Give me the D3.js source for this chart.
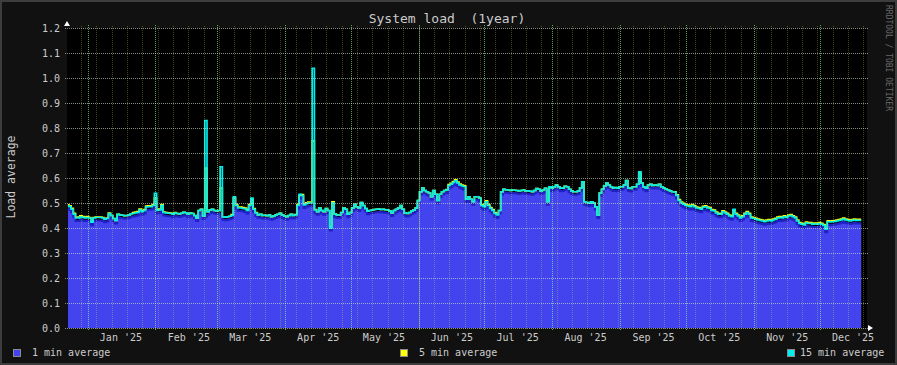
<!DOCTYPE html>
<html>
<head>
<meta charset="utf-8">
<script src="https://cdn.jsdelivr.net/npm/d3@7"></script>
<style>
  html, body { margin: 0; padding: 0; background: #111; }
  svg { display: block; font-family: "DejaVu Sans Mono", monospace; }
</style>
</head>
<body>
<script>
// one sample per day, first sample on 23 Dec 2024
const firstDay = new Date(2024, 11, 23);

// 15 min average (cyan)
const load15 = [
  .489,.485,.475,.455,.440,.440,.445,.442,.440,.442,
  .440,.423,.440,.442,.442,.442,.440,.435,.438,.458,
  .450,.438,.430,.455,.452,.451,.449,.450,.452,.457,
  .458,.460,.462,.472,.465,.470,.484,.485,.485,.490,
  .539,.470,.472,.490,.462,.460,.459,.458,.455,.460,
  .458,.456,.459,.463,.461,.455,.460,.458,.450,.440,
  .470,.475,.448,.830,.465,.472,.475,.470,.468,.470,
  .645,.445,.443,.445,.447,.450,.525,.490,.480,.480,
  .478,.476,.470,.490,.520,.475,.460,.452,.455,.450,
  .451,.449,.452,.445,.448,.452,.455,.459,.452,.448,
  .445,.450,.455,.450,.452,.490,.535,.530,.492,.497,
  .500,.500,1.039,.472,.465,.480,.470,.465,.478,.470,
  .399,.500,.456,.452,.452,.462,.480,.475,.455,.462,
  .480,.495,.485,.480,.502,.490,.478,.467,.470,.472,
  .474,.475,.476,.474,.475,.473,.472,.468,.460,.470,
  .475,.480,.490,.475,.460,.458,.462,.468,.472,.480,
  .510,.545,.560,.550,.545,.540,.525,.550,.535,.510,
  .535,.545,.550,.552,.570,.575,.582,.589,.580,.572,
  .568,.565,.515,.525,.515,.505,.525,.525,.520,.490,
  .485,.505,.490,.478,.470,.458,.452,.470,.545,.555,
  .553,.552,.550,.552,.551,.550,.548,.550,.552,.548,
  .549,.547,.545,.550,.558,.555,.548,.552,.559,.505,
  .565,.560,.565,.572,.565,.559,.560,.567,.565,.555,
  .548,.545,.545,.548,.560,.585,.505,.502,.499,.505,
  .500,.485,.452,.540,.555,.568,.580,.572,.565,.560,
  .562,.559,.565,.565,.572,.590,.560,.558,.565,.565,
  .575,.625,.580,.565,.559,.572,.575,.570,.572,.570,
  .575,.565,.560,.556,.552,.548,.545,.543,.530,.510,
  .500,.495,.490,.488,.485,.490,.485,.480,.478,.475,
  .483,.485,.480,.478,.470,.468,.460,.455,.455,.465,
  .460,.455,.448,.445,.475,.455,.448,.440,.445,.455,
  .462,.455,.440,.438,.435,.432,.430,.428,.425,.428,
  .430,.428,.432,.435,.440,.442,.440,.445,.442,.448,
  .450,.445,.440,.428,.418,.415,.412,.420,.418,.418,
  .415,.416,.415,.418,.415,.410,.395,.425,.424,.425,
  .426,.428,.430,.432,.436,.432,.430,.428,.430,.432,
  .430,.431,.430
];

// 5 min average (yellow)
const load5 = [
  .493,.489,.479,.459,.444,.444,.449,.446,.444,.446,
  .442,.425,.442,.444,.444,.444,.442,.437,.440,.460,
  .450,.438,.430,.455,.452,.451,.449,.450,.452,.457,
  .462,.464,.466,.476,.469,.474,.488,.489,.489,.494,
  .520,.474,.476,.494,.464,.462,.461,.460,.457,.462,
  .458,.456,.459,.463,.461,.455,.460,.458,.450,.440,
  .470,.475,.448,.640,.465,.472,.475,.470,.468,.470,
  .560,.445,.443,.445,.447,.454,.520,.494,.484,.484,
  .482,.480,.474,.494,.515,.478,.462,.452,.455,.450,
  .451,.449,.452,.445,.448,.452,.455,.459,.452,.448,
  .445,.450,.455,.450,.454,.494,.530,.534,.496,.501,
  .504,.504,.749,.474,.465,.480,.470,.465,.478,.470,
  .405,.505,.456,.452,.452,.462,.480,.475,.455,.462,
  .480,.495,.485,.480,.502,.490,.478,.467,.470,.472,
  .474,.475,.476,.474,.475,.473,.472,.468,.460,.470,
  .475,.480,.490,.475,.460,.458,.462,.468,.472,.480,
  .510,.545,.560,.550,.545,.540,.525,.550,.535,.510,
  .535,.545,.550,.554,.574,.579,.586,.593,.584,.576,
  .572,.569,.515,.525,.515,.505,.525,.525,.520,.494,
  .489,.509,.494,.482,.474,.462,.456,.470,.545,.555,
  .553,.552,.550,.552,.551,.550,.548,.550,.552,.548,
  .549,.547,.545,.550,.558,.555,.548,.552,.559,.505,
  .565,.560,.565,.572,.565,.559,.560,.567,.565,.555,
  .548,.545,.545,.548,.560,.585,.505,.502,.499,.505,
  .500,.485,.452,.540,.555,.568,.580,.572,.565,.560,
  .562,.559,.565,.565,.572,.590,.560,.558,.565,.565,
  .575,.620,.580,.565,.559,.572,.575,.570,.572,.570,
  .575,.565,.560,.556,.552,.548,.545,.545,.533,.514,
  .504,.499,.494,.492,.489,.494,.489,.484,.482,.479,
  .487,.489,.484,.482,.474,.472,.464,.459,.459,.469,
  .464,.459,.452,.449,.470,.459,.452,.444,.449,.459,
  .466,.459,.444,.442,.439,.436,.434,.432,.429,.432,
  .434,.432,.436,.439,.444,.446,.444,.449,.446,.452,
  .454,.449,.444,.432,.422,.419,.416,.424,.422,.422,
  .419,.420,.419,.422,.419,.414,.400,.429,.428,.429,
  .430,.432,.434,.436,.440,.436,.434,.432,.434,.436,
  .434,.435,.434
];

// 1 min average (blue area)
const load1 = [
  .477,.473,.463,.443,.428,.428,.433,.430,.428,.430,
  .428,.411,.428,.430,.430,.430,.428,.423,.426,.446,
  .438,.426,.418,.443,.440,.439,.437,.438,.440,.445,
  .446,.448,.450,.460,.453,.458,.472,.473,.473,.478,
  .505,.458,.460,.478,.450,.448,.447,.446,.443,.448,
  .446,.444,.447,.451,.449,.443,.448,.446,.438,.428,
  .458,.463,.436,.445,.453,.460,.463,.458,.456,.458,
  .445,.433,.431,.433,.435,.438,.505,.478,.468,.468,
  .466,.464,.458,.478,.505,.463,.448,.440,.443,.438,
  .439,.437,.440,.433,.436,.440,.443,.447,.440,.436,
  .433,.438,.443,.438,.440,.478,.523,.518,.480,.485,
  .488,.488,.490,.460,.453,.468,.458,.453,.466,.458,
  .390,.488,.444,.440,.440,.450,.468,.463,.443,.450,
  .468,.483,.473,.468,.490,.478,.466,.455,.458,.460,
  .462,.463,.464,.462,.463,.461,.460,.456,.448,.458,
  .463,.468,.478,.463,.448,.446,.450,.456,.460,.468,
  .498,.533,.548,.538,.533,.528,.513,.538,.523,.498,
  .523,.533,.538,.540,.558,.563,.570,.577,.568,.560,
  .556,.553,.503,.513,.503,.493,.513,.513,.508,.478,
  .473,.493,.478,.466,.458,.446,.440,.458,.533,.543,
  .541,.540,.538,.540,.539,.538,.536,.538,.540,.536,
  .537,.535,.533,.538,.546,.543,.536,.540,.547,.493,
  .553,.548,.553,.560,.553,.547,.548,.555,.553,.543,
  .536,.533,.533,.536,.548,.573,.493,.490,.487,.493,
  .488,.473,.440,.528,.543,.556,.568,.560,.553,.548,
  .550,.547,.553,.553,.560,.578,.548,.546,.553,.553,
  .563,.613,.568,.553,.547,.560,.563,.558,.560,.558,
  .563,.553,.548,.544,.540,.536,.533,.531,.518,.498,
  .488,.483,.478,.476,.473,.478,.473,.468,.466,.463,
  .471,.473,.468,.466,.458,.456,.448,.443,.443,.453,
  .448,.443,.436,.433,.463,.443,.436,.428,.433,.443,
  .450,.443,.428,.426,.423,.420,.418,.416,.413,.416,
  .418,.416,.420,.423,.428,.430,.428,.433,.430,.436,
  .438,.433,.428,.416,.406,.403,.400,.408,.406,.406,
  .403,.404,.403,.406,.403,.398,.383,.413,.412,.413,
  .414,.416,.418,.420,.424,.420,.418,.416,.418,.420,
  .418,.419,.418
];

const yTicks = [0, .1, .2, .3, .4, .5, .6, .7, .8, .9, 1.0, 1.1, 1.2];
const yLabels = ["0.0","0.1","0.2","0.3","0.4","0.5","0.6","0.7","0.8","0.9","1.0","1.1","1.2"];
const monthLabels = ["Jan '25","Feb '25","Mar '25","Apr '25","May '25","Jun '25",
                     "Jul '25","Aug '25","Sep '25","Oct '25","Nov '25","Dec '25"];
const seriesNames = ["1 min average", "5 min average", "15 min average"];
const seriesColors = ["#4444ee", "#ffff00", "#00eeee"];

const W = 897, H = 365;
const x0 = 67, plotW = 800, y0 = 328, plotH = 300;
const txt = "#cccccc";

const rows = load1.map((v, i) => ({
  date: d3.timeDay.offset(firstDay, i),
  v1: v, v5: load5[i], v15: load15[i]
}));

const svg = d3.select('body').append('svg')
  .attr('width', W).attr('height', H);

// canvas + frame
svg.append('rect')
  .attr('x', 1).attr('y', 1).attr('width', W - 2).attr('height', H - 2)
  .attr('fill', '#111').attr('stroke', '#3d3d3d').attr('stroke-width', 2);

// plot background
svg.append('rect')
  .attr('x', x0).attr('y', y0 - plotH).attr('width', plotW).attr('height', plotH)
  .attr('fill', '#000');

const x = d3.scaleTime()
  .domain([new Date(2024, 11, 22, 15), new Date(2025, 11, 22, 15)])
  .range([x0, x0 + plotW]);
const y = d3.scaleLinear().domain([0, 1.2]).range([y0, y0 - plotH]);

const plot = svg.append('g');

plot.append('path').datum(rows)
  .attr('fill', seriesColors[0])
  .attr('d', d3.area().curve(d3.curveStep)
    .x(d => x(d.date)).y0(y(0)).y1(d => y(d.v1)));

const line = key => d3.line().curve(d3.curveStep)
  .x(d => x(d.date)).y(d => y(d[key]));

plot.append('path').datum(rows)
  .attr('fill', 'none').attr('stroke', '#2222c4').attr('stroke-width', 2)
  .attr('d', line('v1'));
plot.append('path').datum(rows)
  .attr('fill', 'none').attr('stroke', seriesColors[1]).attr('stroke-width', 1.7)
  .attr('d', line('v5'));
plot.append('path').datum(rows)
  .attr('fill', 'none').attr('stroke', seriesColors[2]).attr('stroke-width', 1.7)
  .attr('d', line('v15'));

// grid (drawn on top of the data, like rrdtool)
const grid = svg.append('g')
  .attr('shape-rendering', 'crispEdges')
  .attr('stroke-dasharray', '1,1')
  .attr('fill', 'none');

const weeks = d3.timeSunday.range(x.domain()[0], x.domain()[1]);
grid.selectAll('.minor').data(weeks).enter().append('line')
  .attr('x1', d => Math.round(x(d)) + 0.5).attr('x2', d => Math.round(x(d)) + 0.5)
  .attr('y1', y0 - plotH - 2).attr('y2', y0 + 1)
  .attr('stroke', 'rgba(255,255,80,0.26)');

const months = d3.timeMonth.range(x.domain()[0], x.domain()[1]);
grid.selectAll('.major').data(months).enter().append('line')
  .attr('x1', d => Math.round(x(d)) + 0.5).attr('x2', d => Math.round(x(d)) + 0.5)
  .attr('y1', y0 - plotH - 3).attr('y2', y0 + 3)
  .attr('stroke', 'rgba(150,255,150,0.62)');

grid.selectAll('.hgrid').data(yTicks).enter().append('line')
  .attr('x1', x0 - 2).attr('x2', x0 + plotW + 2)
  .attr('y1', d => Math.round(y(d)) + 0.5).attr('y2', d => Math.round(y(d)) + 0.5)
  .attr('stroke', 'rgba(215,235,215,0.6)');

// axes
const yAxis = svg.append('g')
  .attr('transform', `translate(${x0},0)`)
  .call(d3.axisLeft(y).tickValues(yTicks).tickFormat((d, i) => yLabels[i])
    .tickSize(0).tickPadding(7));
yAxis.select('.domain').remove();
yAxis.selectAll('text').attr('fill', txt).attr('font-size', 10)
  .attr('font-family', '"DejaVu Sans Mono", monospace');

const labelDates = months.filter(m => m >= new Date(2025, 0, 1))
  .map(m => d3.timeDay.offset(m, 15));
const xAxis = svg.append('g')
  .attr('transform', `translate(0,${y0})`)
  .call(d3.axisBottom(x).tickValues(labelDates).tickFormat((d, i) => monthLabels[i])
    .tickSize(0).tickPadding(6));
xAxis.select('.domain').remove();
xAxis.selectAll('text').attr('fill', txt).attr('font-size', 10)
  .attr('font-family', '"DejaVu Sans Mono", monospace');

// axis arrows
svg.append('path')
  .attr('d', `M${x0 - 3},${y0 - plotH - 2}L${x0 + 3},${y0 - plotH - 2}L${x0},${y0 - plotH - 7}Z`)
  .attr('fill', '#fff');
svg.append('path')
  .attr('d', `M${x0 + plotW + 1},${y0 - 3}L${x0 + plotW + 1},${y0 + 3}L${x0 + plotW + 6},${y0}Z`)
  .attr('fill', '#fff');

// title
svg.append('text')
  .attr('x', 447).attr('y', 23).attr('text-anchor', 'middle')
  .attr('fill', txt).attr('font-size', 13)
  .attr('xml:space', 'preserve')
  .text('System load  (1year)');

// y axis title
svg.append('text')
  .attr('transform', 'translate(15,177) rotate(-90)')
  .attr('text-anchor', 'middle').attr('fill', txt).attr('font-size', 11.5)
  .text('Load average');

// watermark
svg.append('text')
  .attr('transform', 'translate(886,5) rotate(90)')
  .attr('fill', '#6a6a6a').attr('font-size', 8)
  .text('RRDTOOL / TOBI OETIKER');

// legend
const legendX = [13, 400, 787];
const legend = svg.append('g');
seriesNames.forEach((name, i) => {
  legend.append('rect')
    .attr('x', legendX[i] + 0.5).attr('y', 349.5).attr('width', 7).attr('height', 7)
    .attr('fill', seriesColors[i]).attr('stroke', '#8a8a8a').attr('stroke-width', 1);
  legend.append('text')
    .attr('x', legendX[i] + (i === 2 ? 13 : 19)).attr('y', 356)
    .attr('fill', txt).attr('font-size', 10)
    .text(name);
});
</script>
</body>
</html>
